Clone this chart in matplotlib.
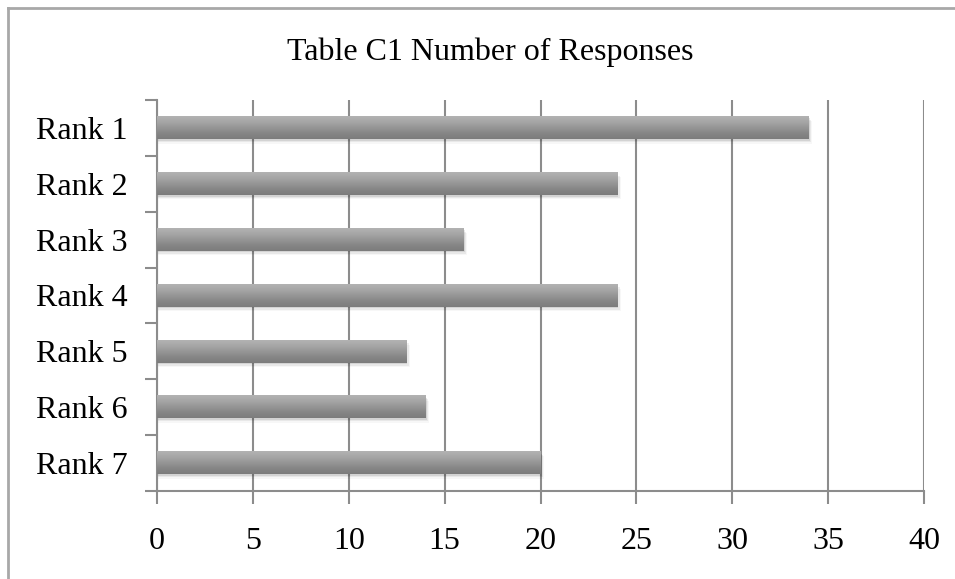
import numpy as np
import matplotlib
matplotlib.use("Agg")
import matplotlib.pyplot as plt
from matplotlib.lines import Line2D
from matplotlib.colors import LinearSegmentedColormap

# responses per rank
ranks = ["Rank 1", "Rank 2", "Rank 3", "Rank 4", "Rank 5", "Rank 6", "Rank 7"]
responses = [34, 24, 16, 24, 13, 14, 20]
x_ticks = [0, 5, 10, 15, 20, 25, 30, 35, 40]

plt.rcParams["font.family"] = ["Liberation Serif", "DejaVu Serif"]

fig = plt.figure(figsize=(9.55, 5.79), dpi=100)
ax = fig.add_axes([157 / 955, 1 - 491 / 579, (924 - 157) / 955, (491 - 100) / 579])

# light frame round the chart (left and top edges visible)
fig.add_artist(Line2D([8 / 955, 8 / 955], [0, 1 - 8 / 579], transform=fig.transFigure,
                      color="#a8a8a8", lw=2))
fig.add_artist(Line2D([8 / 955, 1], [1 - 8 / 579, 1 - 8 / 579], transform=fig.transFigure,
                      color="#a8a8a8", lw=2))

bar_h = 0.4
shade = LinearSegmentedColormap.from_list(
    "shade", ["#b2b2b2", "#a6a6a6", "#969696", "#868686", "#7c7c7c"])
grad = np.linspace(0, 1, 64).reshape(-1, 1)

for i, v in enumerate(responses):
    # soft shadow underneath
    for k, a in enumerate([0.09, 0.06, 0.03]):
        off = 0.03 + 0.025 * k
        ax.barh(i + off, v + 0.06 * (k + 1), height=bar_h, left=0,
                color="black", alpha=a, lw=0, zorder=2)
    ax.imshow(grad, extent=(0, v, i + bar_h / 2, i - bar_h / 2), origin="upper",
              cmap=shade, aspect="auto", interpolation="bilinear", zorder=3)

ax.set_xlim(0, 40)
ax.set_ylim(len(ranks) - 0.5, -0.5)
ax.set_xticks(x_ticks)
ax.set_xticklabels([str(t) for t in x_ticks])
ax.set_yticks(np.arange(len(ranks) + 1) - 0.5, minor=False)
ax.set_yticklabels([])
ax.set_yticks(np.arange(len(ranks)), minor=True)
ax.set_yticklabels(ranks, minor=True)

ax.grid(axis="x", color="#8c8c8c", lw=1.5, zorder=1)
ax.set_axisbelow(True)
for side in ["top", "right"]:
    ax.spines[side].set_visible(False)
for side in ["left", "bottom"]:
    ax.spines[side].set_color("#8c8c8c")
    ax.spines[side].set_linewidth(1.5)

ax.tick_params(axis="x", which="major", length=9, width=1.5, color="#8c8c8c",
               labelsize=23, pad=17, labelcolor="black")
ax.tick_params(axis="y", which="major", length=9, width=1.5, color="#8c8c8c")
ax.tick_params(axis="y", which="minor", length=0, labelsize=23, pad=21)

fig.text(490 / 955, 1 - 52 / 579, "Table C1 Number of Responses",
         ha="center", va="center", fontsize=23)

fig.savefig("out.png", dpi=100)
